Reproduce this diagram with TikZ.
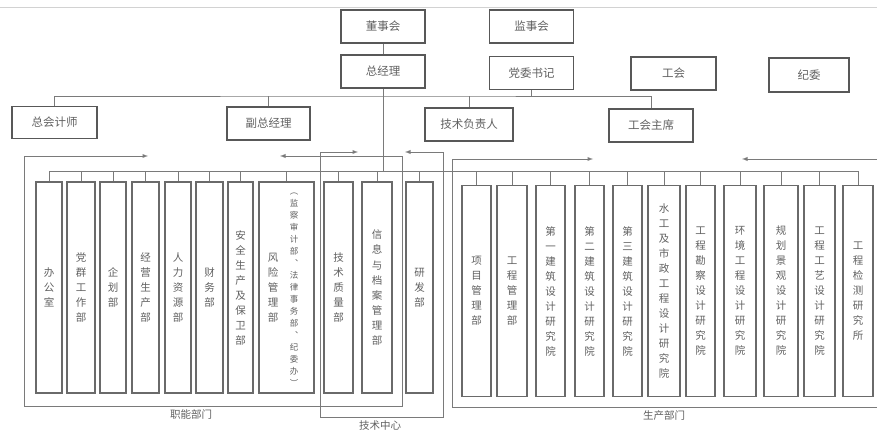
\documentclass[tikz,border=0pt]{standalone}
\usepackage{fontspec}
\setmainfont{Noto Sans CJK SC}
\XeTeXlinebreaklocale "zh"
\XeTeXlinebreakskip=0pt plus 1pt
\definecolor{boxgray}{HTML}{585858}
\definecolor{deptgray}{HTML}{6A6A6A}
\definecolor{linegray}{HTML}{7A7A7A}
\definecolor{txtgray}{HTML}{606060}

\begin{document}
\begin{tikzpicture}[x=1pt,y=-1pt,
  topbox/.style={draw=boxgray,line width=1.7pt,minimum width=84pt,minimum height=33pt,inner sep=0pt,text=txtgray,font=\fontsize{11.5}{13}\selectfont},
  deptbox/.style={draw=deptgray,line width=1.4pt,inner sep=0pt,text=txtgray,align=center,font=\fontsize{10.5}{15}\selectfont},
  vtext/.style={text width=12pt,align=center,inner sep=0pt,text=txtgray,font=\fontsize{10.5}{15}\selectfont},
  link/.style={draw=linegray,line width=0.9pt},
  grplabel/.style={text=txtgray,font=\fontsize{10.5}{12}\selectfont}
]
\useasboundingbox (0,0) rectangle (877,435);
\draw[gray!35,line width=0.8pt] (0,7) -- (877,7);

% top management
\node[topbox] (dsh) at (383,26.5) {董事会};
\node[topbox] (jsh) at (531.5,26.5) {监事会};
\node[topbox] (zjl) at (383,71.5) {总经理};
\node[topbox] (dwsj) at (531.5,73) {党委书记};
\node[topbox,minimum width=85pt] (gh) at (673.5,73.5) {工会};
\node[topbox,minimum width=80pt,minimum height=34pt] (jw) at (809,75) {纪委};
\node[topbox,minimum width=85pt,minimum height=32pt] (zkj) at (54.5,122.5) {总会计师};
\node[topbox,minimum width=83pt] (fzjl) at (268.5,123.5) {副总经理};
\node[topbox,minimum width=88pt] (jsfz) at (469,124.5) {技术负责人};
\node[topbox] (ghzx) at (651,125.5) {工会主席};

\coordinate (mid) at (383,96);
\coordinate (busL) at (49,171);
\coordinate (busR) at (858,171);
\draw[link] (dsh) -- (zjl);
\draw[link] (zjl) -- (zjl |- busL);
\draw[link] (zkj) |- (mid) -| (ghzx);
\draw[link] (fzjl) -- (fzjl |- mid);
\draw[link] (jsfz) -- (jsfz |- mid);
\draw[link] (dwsj) -- (dwsj |- mid);

% departments
\foreach \n/\x/\y/\w/\l in {
d1/49/287.5/26/办公室,
d2/81/287.5/28/党群工作部,
d3/113/287.5/26/企划部,
d4/145.5/287.5/27/经营生产部,
d5/178/287.5/26/人力资源部,
d6/209.5/287.5/27/财务部,
d7/240.5/287.5/25/安全生产及保卫部,
d8/286.5/287.5/55/{},
d9/338.5/287.5/29/技术质量部,
d10/377/287.5/30/信息与档案管理部,
d11/419.5/287.5/27/研发部,
d12/476.5/291/29/项目管理部,
d13/512/291/30/工程管理部,
d14/550.5/291/29/第一建筑设计研究院,
d15/589.5/291/29/第二建筑设计研究院,
d16/627.5/291/29/第三建筑设计研究院,
d17/664/291/32/水工及市政工程设计研究院,
d18/700.5/291/29/工程勘察设计研究院,
d19/740/291/32/环境工程设计研究院,
d20/781/291/34/规划景观设计研究院,
d21/819.5/291/31/工程工艺设计研究院,
d22/858/291/30/工程检测研究所
}
{
  \node[deptbox,minimum width=\w pt,minimum height=211pt] (\n) at (\x,\y) {};
  \node[vtext] (\n t) at (\n.center) {\l};
}
\node[deptbox,draw=none] (d8a) at (273,288) {风\\险\\管\\理\\部};
\node[deptbox,draw=none,font=\fontsize{8.5}{12}\selectfont] (d8b) at (294,290) {︵\\监\\察\\审\\计\\部\\︑\\法\\律\\事\\务\\部\\︑\\纪\\委\\办\\︶};

\draw[link] (busL) -- (busR);
\foreach \n in {d1,d2,d3,d4,d5,d6,d7,d8,d9,d10,d11,d12,d13,d14,d15,d16,d17,d18,d19,d20,d21,d22}
  \draw[link] (\n.north) -- (\n.north |- busL);

% group brackets
\coordinate (znTL) at (24,156);
\coordinate (znBR) at (402,406);
\coordinate (znAL) at (148,156);
\coordinate (znAR) at (280,156);
\draw[link,latex-latex] (znAL) -- (znTL) |- (znBR) -- (znBR |- znTL) -- (znAR);
\coordinate (jsTL) at (320,152);
\coordinate (jsBR) at (443,417);
\coordinate (jsAL) at (358,152);
\coordinate (jsAR) at (405,152);
\draw[link,latex-latex] (jsAL) -- (jsTL) |- (jsBR) -- (jsBR |- jsTL) -- (jsAR);
\coordinate (scTL) at (452,159);
\coordinate (scBR) at (884,407);
\coordinate (scAL) at (593,159);
\coordinate (scAR) at (742,159);
\draw[link,latex-latex] (scAL) -- (scTL) |- (scBR) -- (scBR |- scTL) -- (scAR);

\node[grplabel] (znl) at (191,414) {职能部门};
\node[grplabel] (jsl) at (380,426) {技术中心};
\node[grplabel] (scl) at (664,416) {生产部门};
\end{tikzpicture}
\end{document}
